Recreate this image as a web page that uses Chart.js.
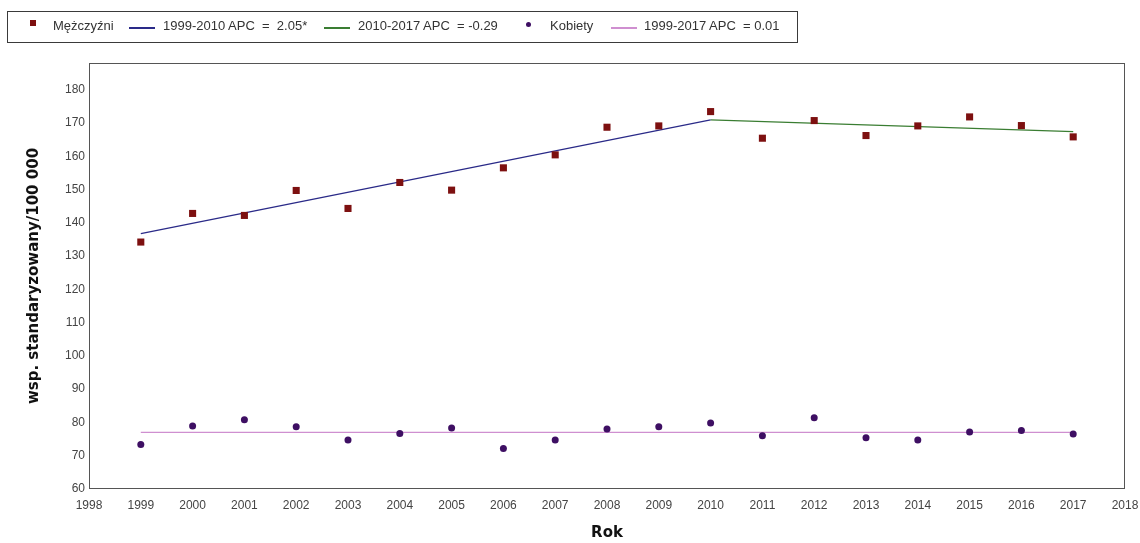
<!DOCTYPE html>
<html><head><meta charset="utf-8">
<script src="https://cdn.jsdelivr.net/npm/chart.js@4"></script>
<style>
html,body{margin:0;padding:0;background:#fff;}
#wrap{position:relative;width:1140px;height:543px;overflow:hidden;}
#c{position:absolute;left:0;top:0;}
#legend{position:absolute;left:7px;top:11px;width:791px;height:32px;border:1px solid #3a3a3a;box-sizing:border-box;font:13px "Liberation Sans",Arial,sans-serif;color:#333;}
.tx{position:absolute;top:6px;line-height:16px;white-space:pre;}
.ln{position:absolute;top:15px;height:2px;width:26px;}
.sq{position:absolute;left:22px;top:8px;width:6px;height:6px;}
.dt{position:absolute;left:518px;top:10px;width:5px;height:5px;border-radius:50%;}
</style></head>
<body><div id="wrap"><canvas id="c" width="1140" height="543"></canvas><div id="legend"></div></div>
<script>
const years = [1999,2000,2001,2002,2003,2004,2005,2006,2007,2008,2009,2010,2011,2012,2013,2014,2015,2016,2017];
const menRates = [134.2,142.8,142.2,149.7,144.3,152.1,149.8,156.5,160.4,168.7,169.1,173.4,165.4,170.7,166.2,169.1,171.8,169.2,165.8];
const womenRates = [73.4,78.9,80.8,78.7,74.7,76.7,78.3,72.2,74.7,78.0,78.7,79.8,76.0,81.4,75.4,74.7,77.1,77.6,76.5];
const menTrend1Years = [1999,2010];
const menTrend1 = [136.7,170.9];
const menTrend2Years = [2010,2017];
const menTrend2 = [170.9,167.4];
const womenTrendYears = [1999,2017];
const womenTrend = [77.0,77.0];
const xTicks = [1998,1999,2000,2001,2002,2003,2004,2005,2006,2007,2008,2009,2010,2011,2012,2013,2014,2015,2016,2017,2018];
const yTicks = [60,70,80,90,100,110,120,130,140,150,160,170,180];
const labels = ["Mężczyźni","1999-2010 APC  =  2.05*","2010-2017 APC  = -0.29","Kobiety","1999-2017 APC  = 0.01"];

const colMen = '#7d1010', colBlue = '#2a2a88', colGreen = '#3a7d32', colWomen = '#3e0f63', colPink = '#cf8fd0';

const zip = (xs, ys) => xs.map((x,i)=>({x:x, y:ys[i]}));

// legend
const lg = document.getElementById('legend');
lg.innerHTML =
 '<div class="sq" style="background:'+colMen+'"></div>'+
 '<div class="tx" style="left:45px">'+labels[0]+'</div>'+
 '<div class="ln" style="left:121px;background:'+colBlue+'"></div>'+
 '<div class="tx" style="left:155px">'+labels[1]+'</div>'+
 '<div class="ln" style="left:316px;background:'+colGreen+'"></div>'+
 '<div class="tx" style="left:350px">'+labels[2]+'</div>'+
 '<div class="dt" style="background:'+colWomen+'"></div>'+
 '<div class="tx" style="left:542px">'+labels[3]+'</div>'+
 '<div class="ln" style="left:603px;background:'+colPink+'"></div>'+
 '<div class="tx" style="left:636px">'+labels[4]+'</div>';

const framePlugin = {
  id:'frame',
  afterDraw(chart){
    const a = chart.chartArea, ctx = chart.ctx;
    ctx.save();
    ctx.strokeStyle = '#555';
    ctx.lineWidth = 1;
    ctx.strokeRect(Math.round(a.left)+0.5, Math.round(a.top)+0.5, Math.round(a.right-a.left)-1, Math.round(a.bottom-a.top)-1);
    ctx.restore();
  }
};

new Chart(document.getElementById('c'), {
  type:'scatter',
  data:{datasets:[
    {label:labels[0], data:zip(years,menRates), pointStyle:'rect', pointRadius:5, pointHoverRadius:5, backgroundColor:colMen, borderColor:colMen, borderWidth:0},
    {label:labels[3], data:zip(years,womenRates), pointStyle:'circle', pointRadius:3.5, pointHoverRadius:3.5, backgroundColor:colWomen, borderColor:colWomen, borderWidth:0},
    {label:labels[1], data:zip(menTrend1Years,menTrend1), showLine:true, pointRadius:0, borderColor:colBlue, borderWidth:1.3, fill:false},
    {label:labels[2], data:zip(menTrend2Years,menTrend2), showLine:true, pointRadius:0, borderColor:colGreen, borderWidth:1.3, fill:false},
    {label:labels[4], data:zip(womenTrendYears,womenTrend), showLine:true, pointRadius:0, borderColor:colPink, borderWidth:1.3, fill:false}
  ]},
  options:{
    responsive:false, animation:false,
    layout:{padding:{left:0, top:63, right:15, bottom:0}},
    plugins:{legend:{display:false}, tooltip:{enabled:false}},
    scales:{
      x:{type:'linear', min:xTicks[0], max:xTicks[xTicks.length-1],
        afterFit(s){ s.height = 54; s.paddingLeft = 0; s.paddingRight = 0; },
        afterBuildTicks(s){ s.ticks = xTicks.map(v=>({value:v})); },
        grid:{display:false, drawTicks:false}, border:{display:false},
        ticks:{padding:9, color:'#444', font:{family:'"Liberation Sans", Arial, sans-serif', size:12}, maxRotation:0, autoSkip:false, callback:v=>String(v)},
        title:{display:true, text:'Rok', color:'#111', font:{family:'"DejaVu Sans", sans-serif', size:15, weight:'bold'}, padding:{top:0,bottom:1}}
      },
      y:{type:'linear', min:60, max:188,
        afterFit(s){ s.width = 89; s.paddingTop = 0; s.paddingBottom = 0; },
        afterBuildTicks(s){ s.ticks = yTicks.map(v=>({value:v})); },
        grid:{display:false, drawTicks:false}, border:{display:false},
        ticks:{padding:4, color:'#444', font:{family:'"Liberation Sans", Arial, sans-serif', size:12}, callback:v=>String(v)},
        title:{display:true, text:'wsp. standaryzowany/100 000', color:'#111', font:{family:'"DejaVu Sans", sans-serif', size:15, weight:'bold'}, padding:{top:25,bottom:0}}
      }
    }
  },
  plugins:[framePlugin]
});
</script></body></html>
